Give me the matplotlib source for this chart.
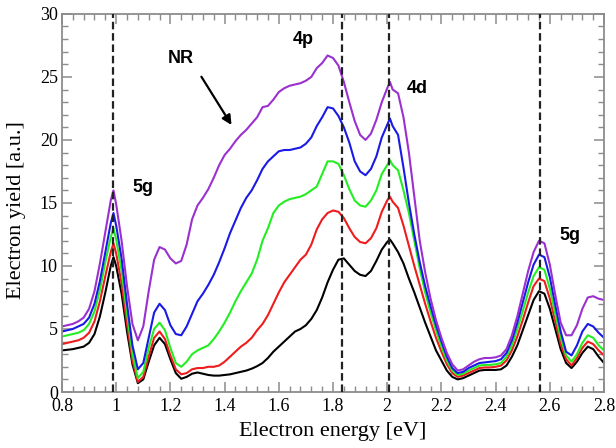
import numpy as np
import matplotlib
matplotlib.use("Agg")
import matplotlib.pyplot as plt
from matplotlib.ticker import MultipleLocator

# energy grid [eV], 0.02 steps plus the two sharp peak positions
energy = np.round(np.arange(0.80, 2.8001, 0.02), 2)
energy = np.insert(energy, [10, 61], [0.99, 2.01])

black = [3.3, 3.35, 3.4, 3.5, 3.6, 3.9, 4.6, 6.0, 7.9, 10.0, 10.7,
         10.0, 7.8, 4.8, 2.2, 0.7, 1.0, 2.4, 3.7, 4.3, 3.8,
         2.6, 1.5, 1.05, 1.2, 1.45, 1.55, 1.45, 1.35, 1.3, 1.3,
         1.35, 1.4, 1.5, 1.6, 1.7, 1.85, 2.05, 2.3, 2.7, 3.2,
         3.6, 4.0, 4.4, 4.8, 5.0, 5.3, 5.8, 6.5, 7.5, 8.7,
         9.7, 10.5, 10.6, 10.1, 9.6, 9.3, 9.2, 9.6, 10.4, 11.3,
         11.9, 12.1, 11.8, 11.1, 10.2, 9.0, 7.9, 6.7, 5.5, 4.4, 3.3,
         2.5, 1.7, 1.2, 1.0, 1.1, 1.3, 1.5, 1.7, 1.75, 1.75,
         1.75, 1.8, 2.1, 2.8, 3.7, 4.9, 6.1, 7.3, 8.0, 7.8,
         6.6, 5.0, 3.4, 2.3, 1.9, 2.4, 3.1, 3.6, 3.4, 2.8,
         2.3]

red = [3.8, 3.9, 4.0, 4.1, 4.3, 4.7, 5.6, 7.2, 9.2, 11.1, 11.8,
       11.0, 8.6, 5.4, 2.5, 0.8, 1.2, 2.8, 4.3, 4.8, 4.2,
       2.9, 1.8, 1.4, 1.5, 1.8, 1.9, 1.9, 2.0, 2.0, 2.1,
       2.4, 2.8, 3.2, 3.6, 3.9, 4.3, 4.9, 5.4, 6.1, 7.0,
       7.9, 8.7, 9.3, 9.9, 10.5, 10.9, 11.7, 12.9, 13.7, 14.2,
       14.4, 14.3, 13.8, 13.0, 12.3, 11.9, 11.8, 12.2, 13.0, 14.3,
       15.2, 15.5, 15.1, 14.6, 13.2, 11.6, 10.0, 8.5, 7.0, 5.6, 4.3,
       3.2, 2.2, 1.5, 1.2, 1.3, 1.5, 1.7, 1.9, 1.95, 1.95,
       2.0, 2.1, 2.5, 3.3, 4.4, 5.7, 7.1, 8.4, 9.0, 8.8,
       7.4, 5.6, 3.8, 2.6, 2.1, 2.7, 3.5, 4.0, 3.8, 3.3,
       2.9]

green = [4.4, 4.5, 4.6, 4.7, 4.9, 5.4, 6.4, 8.1, 10.3, 12.3, 13.0,
         12.1, 9.6, 6.2, 3.0, 1.1, 1.6, 3.5, 5.0, 5.5, 4.9,
         3.5, 2.3, 2.0, 2.4, 3.0, 3.3, 3.5, 3.7, 4.2, 4.8,
         5.5, 6.3, 7.2, 8.0, 8.7, 9.4, 10.5, 12.0, 13.0, 14.2,
         14.8, 15.1, 15.3, 15.4, 15.5, 15.7, 16.0, 16.3, 17.3, 18.3,
         18.3, 18.1, 17.2, 16.1, 15.2, 14.8, 14.7, 15.2, 16.0, 17.3,
         18.0, 18.4, 18.0, 17.6, 16.0, 14.2, 12.0, 9.8, 7.9, 6.3, 4.9,
         3.6, 2.5, 1.7, 1.35, 1.45, 1.7, 1.9, 2.1, 2.15, 2.15,
         2.2, 2.3, 2.8, 3.7, 5.0, 6.4, 7.9, 9.2, 9.9, 9.7,
         8.2, 6.2, 4.3, 2.9, 2.4, 3.0, 3.9, 4.5, 4.3, 3.7,
         3.3]

blue = [4.8, 4.9, 5.0, 5.2, 5.4, 5.9, 7.0, 8.8, 11.1, 13.4, 14.2,
        13.2, 10.6, 7.0, 3.7, 1.8, 2.3, 4.3, 6.3, 7.0, 6.5,
        5.3, 4.6, 4.5, 5.2, 6.2, 7.2, 7.8, 8.5, 9.3, 10.3,
        11.4, 12.6, 13.6, 14.6, 15.4, 16.0, 16.8, 17.7, 18.3, 18.7,
        19.1, 19.2, 19.2, 19.3, 19.4, 19.7, 20.2, 21.1, 21.8, 22.6,
        22.5, 21.9, 21.0, 19.8, 18.3, 17.5, 17.2, 17.7, 18.7, 20.2,
        21.2, 21.7, 21.1, 20.4, 17.8, 15.0, 12.5, 10.3, 8.4, 6.8, 5.3,
        4.0, 2.8, 1.9, 1.5, 1.6, 1.9, 2.1, 2.3, 2.35, 2.4,
        2.45, 2.6, 3.1, 4.1, 5.5, 7.1, 8.7, 10.1, 10.9, 10.7,
        9.1, 6.9, 4.8, 3.2, 2.9, 3.7, 4.8, 5.4, 5.2, 4.7,
        4.3]

purple = [5.2, 5.3, 5.4, 5.6, 5.9, 6.6, 8.0, 10.2, 12.7, 15.2, 16.0,
          14.9, 12.0, 8.4, 5.4, 4.1, 5.2, 8.0, 10.5, 11.5, 11.3,
          10.6, 10.2, 10.4, 11.7, 13.7, 14.8, 15.4, 16.1, 17.0, 18.0,
          18.8, 19.3, 19.9, 20.4, 20.8, 21.3, 21.8, 22.6, 22.7, 23.2,
          23.8, 24.1, 24.3, 24.4, 24.5, 24.7, 25.0, 25.7, 26.1, 26.7,
          26.5, 25.9, 24.6, 23.0, 21.5, 20.4, 20.0, 20.5, 21.6, 23.0,
          24.1, 24.6, 24.0, 23.7, 21.8, 19.0, 15.5, 12.0, 9.5, 7.4, 5.7,
          4.3, 3.1, 2.2, 1.7, 1.8, 2.1, 2.4, 2.6, 2.7, 2.7,
          2.75, 2.9, 3.4, 4.5, 6.0, 7.8, 9.6, 11.1, 12.0, 11.8,
          10.1, 7.7, 5.5, 4.5, 4.5, 5.3, 6.6, 7.5, 7.6, 7.4,
          7.3]

series = [black, red, green, blue, purple]
colors = ["black", "#ee1c1c", "#22ee22", "#1a1ae6", "#9b30d0"]

# resonance positions and their labels
res_lines = [0.99, 1.835, 2.005, 2.565]
labels = ["5g", "4p", "4d", "5g", "NR"]
label_x = [1.097, 1.689, 2.112, 2.675, 1.239]
label_y = [16.2, 28.0, 24.1, 12.4, 26.5]

fig = plt.figure(figsize=(6.16, 4.48), dpi=100)
ax = fig.add_axes([0.1006, 0.125, 0.88, 0.844])

for y, c in zip(series, colors):
    ax.plot(energy, y, color=c, lw=1.5, zorder=2)

for xv in res_lines:
    ax.axvline(xv, color="#222222", lw=1.6, ls=(0, (3.4, 1.7)), zorder=3)

for t, lx, ly in zip(labels, label_x, label_y):
    ax.text(lx, ly, t, fontfamily="Liberation Sans", fontweight="bold",
            fontsize=13, ha="center", va="center")

ax.annotate("", xy=(1.431, 21.0), xytext=(1.309, 25.2),
            arrowprops=dict(arrowstyle="-|>", color="black", lw=1.6,
                            mutation_scale=14))

ax.set_xlim(0.8, 2.8)
ax.set_ylim(0, 30)
ax.xaxis.set_major_locator(MultipleLocator(0.2))
ax.xaxis.set_minor_locator(MultipleLocator(0.04))
ax.yaxis.set_major_locator(MultipleLocator(5))
ax.yaxis.set_minor_locator(MultipleLocator(1))
ax.xaxis.set_major_formatter(plt.FuncFormatter(lambda v, p: f"{v:g}"))

frame = "#8c8c8c"
for sp in ax.spines.values():
    sp.set_color(frame)
    sp.set_linewidth(1.3)
ax.tick_params(which="both", direction="in", top=True, right=True,
               color=frame, labelsize=13, pad=3)
ax.tick_params(axis="x", pad=4)
ax.tick_params(which="major", length=7, width=1.1)
ax.tick_params(which="minor", length=4, width=1.0)
for lab in ax.get_xticklabels() + ax.get_yticklabels():
    lab.set_fontfamily("Liberation Serif")

ax.set_xlabel("Electron energy [eV]", fontfamily="Liberation Serif",
              fontsize=16, labelpad=5)
ax.set_ylabel("Electron yield [a.u.]", fontfamily="Liberation Serif",
              fontsize=16)
ax.yaxis.set_label_coords(-0.066, 0.481)

fig.savefig("out.png", dpi=100)
